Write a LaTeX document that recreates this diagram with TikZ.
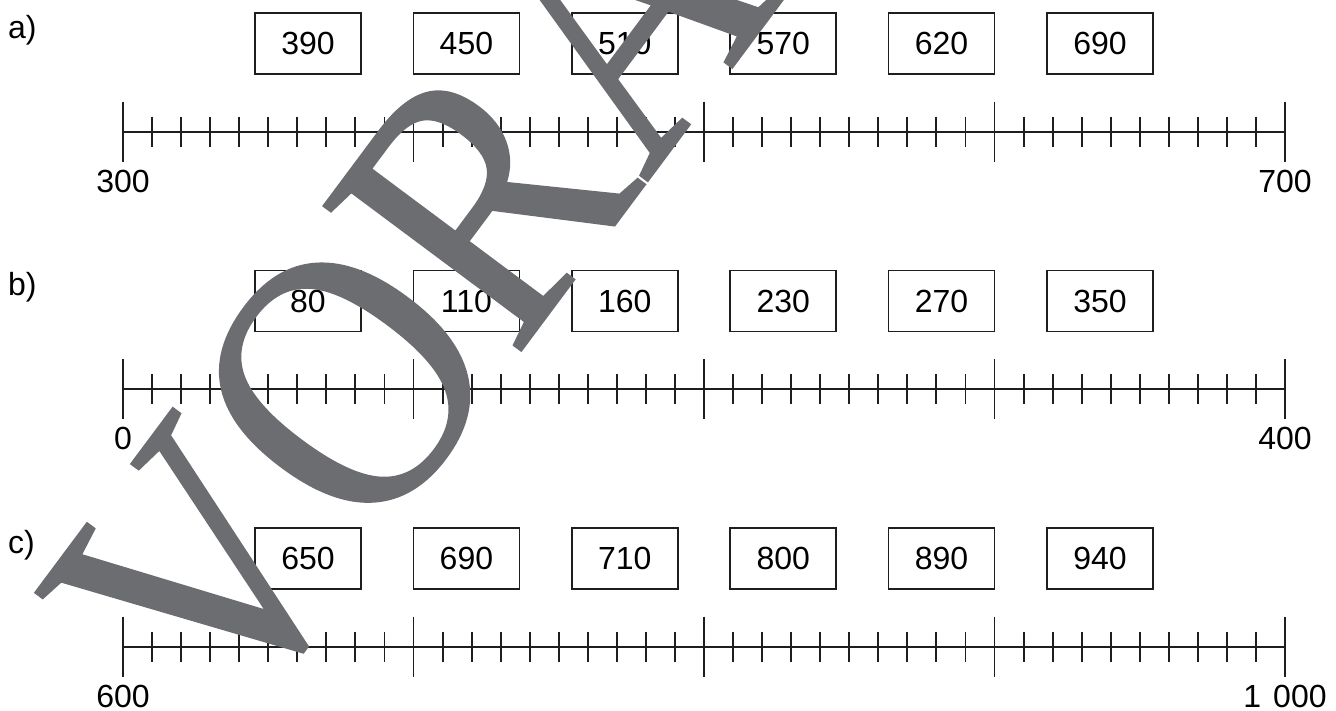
\documentclass[tikz,border=0pt]{standalone}
\usepackage{fontspec}
\setmainfont{Liberation Sans}
\newfontfamily\wmfamily[FakeBold=0.4]{Liberation Serif}
\definecolor{wmgray}{RGB}{108,109,113}
\definecolor{ink}{RGB}{30,30,30}
\begin{document}
\begin{tikzpicture}[x=1pt,y=-1pt,
  numbox/.style={draw=ink,line width=1.5pt,minimum width=106pt,minimum height=61pt,inner sep=0pt,font=\fontsize{32}{38}\selectfont},
  endlabel/.style={anchor=base,inner sep=0pt,font=\fontsize{32}{38}\selectfont},
  partlabel/.style={anchor=west,inner sep=0pt,font=\fontsize{32}{38}\selectfont},
  axisline/.style={draw=ink,line width=2pt},
  minortick/.style={draw=ink,line width=1.9pt},
  midtick/.style={draw=ink,line width=2.4pt},
  majortick/.style={draw=ink,line width=1.9pt},
  wm/.style={rotate=53.3,xscale=0.88,anchor=base west,inner sep=0pt,text=wmgray,font=\wmfamily\fontsize{375}{375}\selectfont}]
\useasboundingbox (0,0) rectangle (1336,710);
\fill[white] (0,0) rectangle (1336,710);
% rows
\foreach \r/\lab/\lo/\hi/\ba/\bb/\bc/\bd/\be/\bf in {
  0/a/300/700/390/450/510/570/620/690,
  1/b/0/400/80/110/160/230/270/350,
  2/c/600/{1\hspace{12pt}000}/650/690/710/800/890/940}{
  \pgfmathsetmacro{\ly}{131.7+257.5*\r}
  \node[partlabel] (lab\lab) at (8,\ly-101.5) {\lab)};
  \foreach \v [count=\k from 0] in {\ba,\bb,\bc,\bd,\be,\bf}{
    \node[numbox] (box\lab\k) at (308+158.4*\k,\ly-88) {\v};
  }
  \coordinate (s\lab) at (123,\ly);
  \coordinate (e\lab) at (1285,\ly);
  \draw[axisline] (s\lab) -- (e\lab);
  \foreach \i in {0,...,40}{
    \pgfmathsetmacro{\tx}{123+29.05*\i}
    \pgfmathtruncatemacro{\mten}{mod(\i,10)}
    \pgfmathtruncatemacro{\mfive}{mod(\i,5)}
    \ifnum\mten=0
      \draw[majortick] (\tx,\ly-30) -- (\tx,\ly+30);
    \else\ifnum\mfive=0
      \draw[midtick] (\tx,\ly-15) -- (\tx,\ly+15);
    \else
      \draw[minortick] (\tx,\ly-15) -- (\tx,\ly+15);
    \fi\fi
  }
  \node[endlabel] (lo\lab) at (123,\ly+60.5) {\lo};
  \node[endlabel] (hi\lab) at (1285,\ly+60.5) {\hi};
}
% watermark
\node[wm] (watermark) at (229.4,742.6) {VORANSICHT};
\end{tikzpicture}
\end{document}
